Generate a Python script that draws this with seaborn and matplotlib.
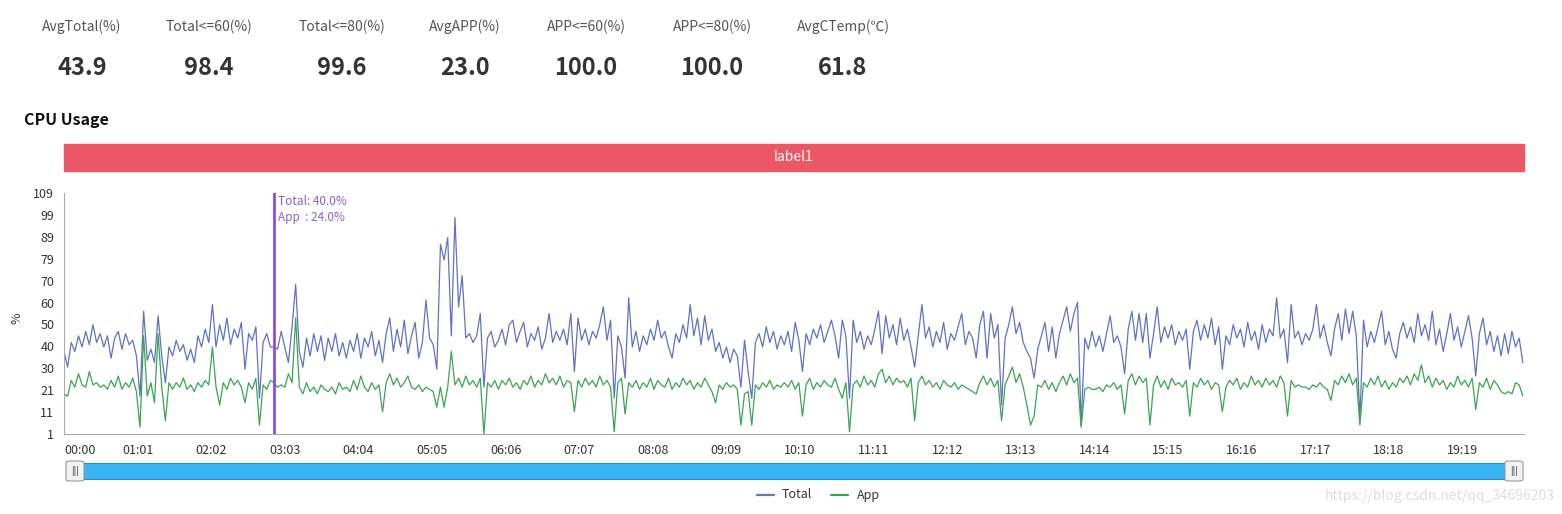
import numpy as np
import pandas as pd
import seaborn as sns
import matplotlib.pyplot as plt
from matplotlib.patches import Rectangle, FancyBboxPatch

# summary numbers shown above the chart
stat_names = ["AvgTotal(%)", "Total<=60(%)", "Total<=80(%)", "AvgAPP(%)",
              "APP<=60(%)", "APP<=80(%)", "AvgCTemp(℃)"]
stat_values = ["43.9", "98.4", "99.6", "23.0", "100.0", "100.0", "61.8"]
stat_x = [82, 209, 342, 465, 586, 712, 843]

# one sample every 3 seconds, one row per minute
total_rows = [
    [38, 31, 42, 38, 45, 40, 47, 41, 50, 42, 46, 40, 45, 35, 44, 47, 39, 46, 41, 43],
    [36, 18, 56, 34, 39, 33, 54, 36, 24, 40, 36, 43, 38, 41, 34, 39, 33, 45, 40, 48],
    [42, 59, 40, 50, 43, 53, 41, 48, 44, 51, 30, 46, 43, 49, 17, 42, 46, 40, 40, 39],
    [47, 40, 33, 49, 68, 38, 31, 44, 36, 46, 38, 45, 34, 44, 38, 46, 36, 42, 35, 43],
    [38, 46, 35, 44, 40, 47, 36, 43, 33, 46, 53, 38, 48, 40, 52, 37, 45, 51, 35, 42],
    [61, 44, 41, 30, 86, 79, 89, 45, 98, 58, 72, 44, 46, 42, 45, 55, 22, 44, 47, 40],
    [43, 48, 41, 50, 52, 42, 47, 51, 40, 46, 43, 49, 39, 44, 55, 42, 47, 43, 48, 41],
    [55, 29, 53, 43, 48, 41, 47, 44, 50, 58, 43, 52, 17, 45, 40, 26, 62, 40, 47, 38],
    [45, 41, 48, 43, 52, 44, 47, 40, 35, 46, 42, 50, 44, 59, 45, 53, 41, 54, 43, 48],
    [38, 42, 35, 40, 33, 39, 36, 22, 43, 29, 17, 42, 46, 40, 49, 42, 47, 39, 45, 41],
    [47, 38, 51, 43, 29, 46, 41, 48, 44, 50, 42, 47, 52, 45, 35, 52, 45, 17, 52, 42],
    [47, 39, 45, 41, 48, 56, 37, 54, 44, 50, 41, 53, 43, 48, 40, 31, 45, 59, 44, 49],
    [40, 47, 42, 51, 39, 46, 43, 49, 55, 41, 47, 44, 35, 50, 56, 35, 55, 44, 50, 14],
    [44, 50, 58, 46, 51, 42, 38, 35, 26, 39, 45, 51, 38, 49, 35, 46, 52, 58, 47, 55],
    [60, 5, 44, 39, 47, 40, 45, 38, 46, 54, 42, 45, 40, 28, 48, 56, 43, 55, 42, 55],
    [35, 46, 58, 42, 49, 44, 50, 41, 47, 43, 48, 30, 47, 52, 43, 50, 44, 53, 41, 49],
    [30, 45, 41, 50, 44, 48, 40, 51, 43, 47, 39, 50, 42, 48, 45, 62, 44, 48, 33, 59],
    [44, 47, 41, 46, 43, 48, 59, 44, 50, 42, 36, 48, 55, 43, 57, 46, 56, 45, 8, 52],
    [40, 47, 42, 49, 56, 41, 47, 39, 35, 46, 51, 44, 49, 42, 55, 45, 50, 43, 56, 41],
    [48, 38, 46, 55, 43, 49, 40, 47, 54, 44, 27, 46, 53, 41, 47, 38, 45, 36, 46, 37],
    [47, 40, 44, 33],
]
app_rows = [
    [19, 18, 25, 22, 28, 23, 22, 29, 23, 24, 22, 23, 21, 25, 22, 27, 21, 24, 22, 26],
    [20, 4, 45, 18, 24, 15, 46, 22, 7, 24, 21, 24, 22, 26, 21, 23, 20, 24, 22, 25],
    [23, 40, 22, 14, 24, 21, 26, 23, 25, 22, 15, 24, 21, 26, 5, 23, 21, 25, 24, 22],
    [23, 22, 28, 24, 53, 22, 19, 24, 20, 22, 19, 23, 21, 20, 22, 19, 24, 21, 22, 20],
    [25, 21, 27, 22, 20, 24, 21, 23, 11, 24, 28, 23, 26, 22, 24, 27, 22, 21, 23, 20],
    [22, 21, 20, 13, 22, 13, 22, 38, 23, 26, 22, 27, 23, 25, 22, 26, 1, 24, 22, 25],
    [21, 25, 23, 26, 22, 24, 21, 25, 23, 27, 22, 25, 23, 28, 24, 26, 23, 27, 22, 25],
    [24, 11, 25, 22, 26, 23, 25, 22, 27, 23, 25, 22, 2, 24, 26, 10, 24, 22, 25, 21],
    [24, 22, 26, 21, 25, 23, 22, 26, 21, 24, 22, 26, 23, 25, 21, 24, 22, 26, 23, 20],
    [15, 23, 21, 24, 22, 23, 21, 5, 19, 20, 5, 23, 21, 24, 22, 25, 21, 23, 22, 24],
    [22, 25, 21, 24, 9, 23, 26, 21, 24, 22, 25, 23, 22, 26, 21, 17, 24, 2, 23, 25],
    [22, 27, 23, 25, 22, 28, 30, 24, 27, 23, 26, 24, 25, 22, 26, 7, 24, 27, 23, 25],
    [22, 24, 21, 25, 23, 22, 24, 21, 23, 22, 21, 20, 19, 24, 27, 23, 26, 22, 25, 7],
    [23, 27, 31, 24, 28, 22, 14, 5, 9, 23, 22, 25, 21, 24, 20, 24, 27, 23, 28, 24],
    [26, 4, 21, 22, 21, 21, 22, 20, 23, 22, 24, 21, 23, 10, 25, 28, 23, 27, 24, 26],
    [5, 23, 27, 22, 25, 21, 26, 23, 24, 22, 25, 9, 24, 22, 26, 23, 25, 21, 24, 23],
    [11, 22, 25, 23, 26, 21, 24, 22, 27, 23, 25, 22, 26, 23, 25, 22, 27, 24, 9, 25],
    [22, 23, 22, 22, 21, 23, 22, 24, 22, 21, 16, 25, 23, 27, 24, 28, 23, 26, 5, 24],
    [22, 26, 23, 27, 22, 25, 21, 24, 22, 26, 24, 27, 23, 28, 25, 32, 24, 27, 22, 26],
    [23, 25, 21, 24, 22, 27, 23, 25, 22, 26, 12, 24, 22, 26, 21, 25, 23, 20, 19, 20],
    [19, 24, 23, 18],
]
total = [v for row in total_rows for v in row]
app = [v for row in app_rows for v in row]
seconds = list(range(0, 3 * len(total), 3))

x_tick_labels = ["00:00", "01:01", "02:02", "03:03", "04:04", "05:05", "06:06",
                 "07:07", "08:08", "09:09", "10:10", "11:11", "12:12", "13:13",
                 "14:14", "15:15", "16:16", "17:17", "18:18", "19:19"]
y_tick_labels = ["1", "11", "21", "30", "40", "50", "60", "70", "79", "89", "99", "109"]

marker_second = 174
marker_text = "Total: 40.0%\nApp  : 24.0%"

W, H = 1562, 514
sns.set_style("white")
plt.rcParams['font.family'] = ['Noto Sans CJK SC', 'DejaVu Sans']

fig = plt.figure(figsize=(W / 100, H / 100), dpi=100)


def fx(x):
    return x / W


def fy(y):
    return 1 - y / H


# header stats
for name, val, x in zip(stat_names, stat_values, stat_x):
    fig.text(fx(x), fy(27), name, ha='center', va='center', fontsize=10, color='#555555')
    fig.text(fx(x), fy(68), val, ha='center', va='center', fontsize=17,
             fontweight='bold', color='#333333')

fig.text(fx(24), fy(120), "CPU Usage", ha='left', va='center', fontsize=11.5,
         fontweight='bold', color='#111111')

# red label band
fig.patches.append(Rectangle((fx(64), fy(171)), fx(1460), 27 / H,
                             transform=fig.transFigure, color='#eb5765', zorder=1))
fig.text(fx(794), fy(157), "label1", ha='center', va='center', fontsize=10, color='white')

# main chart
df = pd.DataFrame({
    'sec': seconds * 2,
    'value': total + app,
    'series': ['Total'] * len(total) + ['App'] * len(app),
})
ax = fig.add_axes([fx(64), fy(434), fx(1460), 241 / H])
sns.lineplot(data=df, x='sec', y='value', hue='series',
             palette={'Total': '#5f72c4', 'App': '#3aa452'},
             linewidth=0.9, ax=ax, legend=False)
ax.set_xlim(0, 1210)
ax.set_ylim(1, 109)

tick_secs = [int(t[:2]) * 60 + int(t[3:]) for t in x_tick_labels]
ax.set_xticks(tick_secs)
ax.set_xticklabels(x_tick_labels)
ax.get_xticklabels()[0].set_horizontalalignment('left')
ax.set_yticks(np.linspace(1, 109, len(y_tick_labels)))
ax.set_yticklabels(y_tick_labels)
ax.tick_params(axis='both', length=4, width=0.8, color='#999999', labelsize=9,
               labelcolor='#333333', pad=3)
for s in ['top', 'right']:
    ax.spines[s].set_visible(False)
for s in ['left', 'bottom']:
    ax.spines[s].set_color('#aaaaaa')
    ax.spines[s].set_linewidth(0.8)
ax.set_xlabel('')
ax.set_ylabel('')
fig.text(fx(17), fy(318), "%", rotation=90, ha='center', va='center', fontsize=9, color='#333333')

ax.axvline(marker_second, color='#8a4de8', linewidth=2)
ax.text(marker_second + 3, 108, marker_text, ha='left', va='top', fontsize=8.5,
        color='#8a5fc9', linespacing=1.25)

# data zoom slider
fig.patches.append(Rectangle((fx(66), fy(479)), fx(1456), 16 / H, transform=fig.transFigure,
                             facecolor='#3ab5f3', edgecolor='#2a8fc8', linewidth=0.8, zorder=1))
for hx in [75, 1514]:
    fig.patches.append(FancyBboxPatch((fx(hx - 9), fy(481)), fx(18), 20 / H,
                                      boxstyle="round,pad=0.0,rounding_size=0.003",
                                      transform=fig.transFigure, facecolor='#f2f2f2',
                                      edgecolor='#9a9a9a', linewidth=0.8, zorder=2))
    fig.text(fx(hx), fy(471), "|||", ha='center', va='center', fontsize=6.5,
             fontweight='bold', color='#666666', zorder=3)

# legend
fig.add_artist(plt.Line2D([fx(757), fx(774)], [fy(495), fy(495)], color='#6677bb', linewidth=1.6))
fig.text(fx(782), fy(495), "Total", ha='left', va='center', fontsize=9, color='#333333')
fig.add_artist(plt.Line2D([fx(831), fx(848)], [fy(495), fy(495)], color='#3aa452', linewidth=1.6))
fig.text(fx(857), fy(495), "App", ha='left', va='center', fontsize=9, color='#333333')

fig.text(fx(1555), fy(496), "https://blog.csdn.net/qq_34696203", ha='right', va='center',
         fontsize=10, color='#dddddd')

fig.savefig("out.png", dpi=100)
